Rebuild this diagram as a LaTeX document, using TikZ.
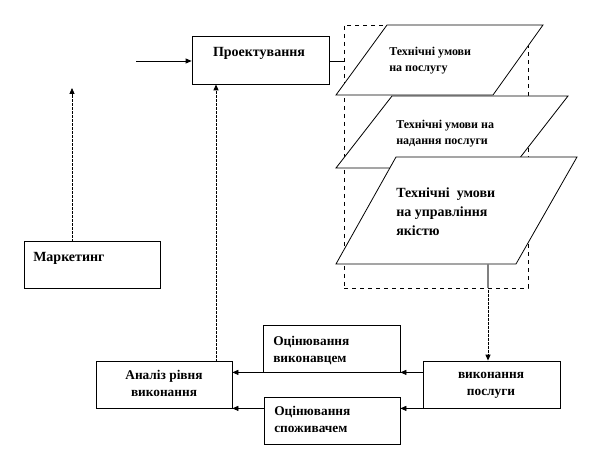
\documentclass[tikz,border=0pt]{standalone}
\usepackage{fontspec}
\setmainfont{Liberation Serif}
\usetikzlibrary{arrows.meta,fit}
\begin{document}
\begin{tikzpicture}[x=0.75pt,y=-0.75pt,
  box/.style={draw, fill=white, inner sep=0pt, line width=0.6pt},
  grpbox/.style={draw, dashed, inner sep=0pt, line width=0.6pt},
  para/.style={draw, fill=white, line width=0.6pt},
  lbl/.style={inner sep=0pt, font=\bfseries\fontsize{10.5}{14.25}\selectfont},
  mlbl/.style={inner sep=0pt, font=\bfseries\fontsize{10}{12.5}\selectfont},
  slbl/.style={inner sep=0pt, font=\bfseries\fontsize{9}{12}\selectfont},
  arr/.style={-{Triangle[length=4.5pt,width=3.8pt]}, line width=0.6pt},
  darr/.style={arr, line width=0.65pt, dash pattern=on 0.5pt off 0.5pt}]
\fill[white] (0,0) rectangle (608,456);
\useasboundingbox (0,0) rectangle (608,456);

% dashed group
\node[grpbox, fit={(344,25) (528,288)}] (grp) {};

% parallelograms
\draw[para] (336,95) -- (493,95) -- (543,25) -- (387,25) -- cycle;
\draw[para] (336,168) -- (512,168) -- (568,96) -- (392,96) -- cycle;
\draw[para] (336,264) -- (516,264) -- (577,157) -- (396,157) -- cycle;
\node[slbl, anchor=north west, align=left] (t1) at (389,47) {Технічні умови\\на послугу};
\node[slbl, anchor=north west, align=left] (t2) at (396,120) {Технічні умови на\\надання послуги};
\node[lbl, anchor=north west, align=left] (t3) at (396,188) {Технічні \ умови\\на управління\\якістю};

% boxes
\node[box, fit={(192,36) (329,84)}] (proj) {};
\node[lbl, anchor=base] (projt) at (259,57) {Проектування};
\node[box, fit={(24,241) (160,288)}] (mark) {};
\node[lbl, anchor=north west] (markt) at (33,252) {Маркетинг};
\node[box, fit={(96,361) (232,408)}] (anal) {};
\node[mlbl, anchor=north, align=center] (analt) at (164,370) {Аналіз рівня\\виконання};
\node[box, fit={(263,325) (400,372)}] (ocv) {};
\node[mlbl, anchor=north west, align=left] (ocvt) at (273,336) {Оцінювання\\виконавцем};
\node[box, fit={(264,397) (400,444)}] (ocs) {};
\node[mlbl, anchor=north west, align=left] (ocst) at (274,406) {Оцінювання\\споживачем};
\node[box, fit={(423,361) (560,408)}] (vyk) {};
\node[mlbl, anchor=north, align=center] (vykt) at (491,372) {виконання\\послуги};

% connectors
\coordinate (in) at (136,61);
\draw[arr] (in) -- (proj.west |- in);
\draw[line width=0.6pt] (proj.east |- in) -- (grp.west |- in);
\coordinate (mtop) at (72,88);
\draw[darr] (mark.north -| mtop) -- (mtop);
\coordinate (ax) at (216,0);
\draw[darr] (anal.north -| ax) -- (proj.south -| ax);
\coordinate (p3b) at (488,264);
\draw[gray, line width=1.2pt] (p3b) -- (p3b |- grp.south);
\draw[darr] (p3b |- grp.south) -- (vyk.north -| p3b);
\draw[arr] (vyk.west |- ocv.south) -- (ocv.south east);
\draw[arr] (ocv.south west) -- (anal.east |- ocv.south);
\draw[arr] (vyk.south west) -- (ocs.east |- vyk.south);
\draw[arr] (ocs.west |- vyk.south) -- (anal.south east);
\end{tikzpicture}
\end{document}
